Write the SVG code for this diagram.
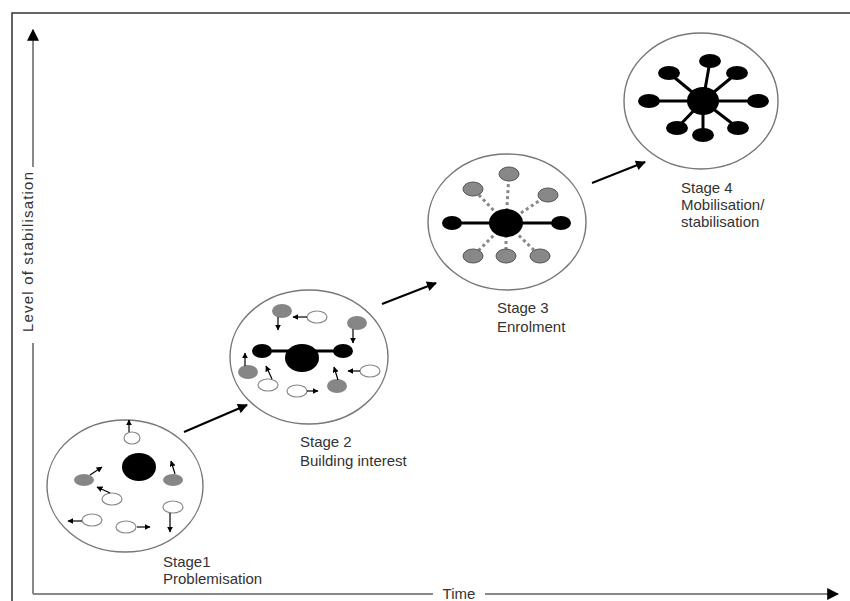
<svg xmlns="http://www.w3.org/2000/svg" width="850" height="601" viewBox="0 0 850 601">
<style>
.stage{fill:#fff;stroke:#777;stroke-width:1.4}
.blk{fill:#000}
.gry{fill:#868686}
.gry3{fill:#888;stroke:#555;stroke-width:1}
.wht{fill:#fff;stroke:#888;stroke-width:1.2}
.mv{stroke:#000;stroke-width:1.2;fill:none;marker-end:url(#sa)}
.lbl{font-family:"Liberation Sans",Arial,sans-serif;font-size:15px;fill:#333}
.axis{stroke:#888;stroke-width:2;fill:none}
.bar{stroke:#000;stroke-width:3}
.dot{stroke:#888;stroke-width:3;stroke-dasharray:3 3}
.conn{stroke:#000;stroke-width:2;fill:none;marker-end:url(#ba)}
</style>
<defs>
<marker id="sa" viewBox="0 0 10 10" refX="9" refY="5" markerWidth="6" markerHeight="6" markerUnits="userSpaceOnUse" orient="auto"><path d="M0,0 L10,5 L0,10 z" fill="#000"/></marker>
<marker id="ba" viewBox="0 0 10 10" refX="9" refY="5" markerWidth="12" markerHeight="10" markerUnits="userSpaceOnUse" orient="auto"><path d="M0,0 L10,5 L0,10 z" fill="#000"/></marker>
<marker id="axa" viewBox="0 0 10 10" refX="9" refY="5" markerWidth="12" markerHeight="12" markerUnits="userSpaceOnUse" orient="auto"><path d="M0,0 L10,5 L0,10 z" fill="#000"/></marker>
</defs>
<rect width="850" height="601" fill="#fff"/>
<path d="M12,601 V13 H850" fill="none" stroke="#333" stroke-width="1.5"/>
<g id="axes">
<path class="axis" d="M33,594 V343"/>
<path class="axis" d="M33,167 V30" marker-end="url(#axa)"/>
<path class="axis" d="M33,594 H433"/>
<path class="axis" d="M485,594 H838" marker-end="url(#axa)"/>
<text class="lbl" transform="translate(33,252) rotate(-90)" text-anchor="middle" textLength="160">Level of stabilisation</text>
<text class="lbl" x="459" y="599" text-anchor="middle">Time</text>
</g>
<g id="stage1">
<ellipse class="stage" cx="125" cy="486" rx="78" ry="66"/>
<ellipse class="blk" cx="139" cy="467" rx="17" ry="14"/>
<ellipse class="wht" cx="132" cy="438" rx="8" ry="6"/>
<ellipse class="gry" cx="84" cy="480" rx="10" ry="6"/>
<ellipse class="gry" cx="173" cy="480" rx="10" ry="6"/>
<ellipse class="wht" cx="112" cy="499" rx="10" ry="6"/>
<ellipse class="wht" cx="173" cy="507" rx="10" ry="6"/>
<ellipse class="wht" cx="92" cy="520" rx="10" ry="6"/>
<ellipse class="wht" cx="126" cy="527" rx="10" ry="6"/>
<path class="mv" d="M129,432 V420"/>
<path class="mv" d="M90,475 L102,467"/>
<path class="mv" d="M175,474 L171,461"/>
<path class="mv" d="M110,493 L97,487"/>
<path class="mv" d="M170,513 V532"/>
<path class="mv" d="M82,521 H68"/>
<path class="mv" d="M137,527 H150"/>
<text class="lbl" x="163" y="567">Stage1</text>
<text class="lbl" x="163" y="584">Problemisation</text>
</g>
<g id="stage2">
<ellipse class="stage" cx="309" cy="357" rx="79" ry="67"/>
<line class="bar" x1="262" y1="351" x2="343" y2="351"/>
<ellipse class="blk" cx="302" cy="358" rx="17" ry="14"/>
<ellipse class="blk" cx="262" cy="351" rx="10" ry="7"/>
<ellipse class="blk" cx="343" cy="351" rx="10" ry="7"/>
<ellipse class="gry" cx="282" cy="311" rx="10" ry="7"/>
<ellipse class="wht" cx="317" cy="317" rx="10" ry="6"/>
<ellipse class="gry" cx="357" cy="323" rx="10" ry="7"/>
<ellipse class="gry" cx="248" cy="372" rx="10" ry="7"/>
<ellipse class="wht" cx="268" cy="385" rx="10" ry="6"/>
<ellipse class="wht" cx="297" cy="391" rx="10" ry="6"/>
<ellipse class="gry" cx="337" cy="386" rx="10" ry="7"/>
<ellipse class="wht" cx="370" cy="371" rx="10" ry="6"/>
<path class="mv" d="M278,317 V330"/>
<path class="mv" d="M307,317 H293"/>
<path class="mv" d="M353,329 V343"/>
<path class="mv" d="M245,366 V353"/>
<path class="mv" d="M272,379 L266,366"/>
<path class="mv" d="M307,391 H318"/>
<path class="mv" d="M338,380 L334,367"/>
<path class="mv" d="M360,371 H348"/>
<text class="lbl" x="300" y="447">Stage 2</text>
<text class="lbl" x="300" y="466">Building interest</text>
</g>
<g id="stage3">
<ellipse class="stage" cx="507" cy="222" rx="79" ry="68"/>
<line class="dot" x1="506" y1="223" x2="509" y2="174"/>
<line class="dot" x1="506" y1="223" x2="473" y2="189"/>
<line class="dot" x1="506" y1="223" x2="548" y2="195"/>
<line class="dot" x1="506" y1="223" x2="473" y2="256"/>
<line class="dot" x1="506" y1="223" x2="506" y2="256"/>
<line class="dot" x1="506" y1="223" x2="540" y2="256"/>
<line class="bar" x1="452" y1="223" x2="561" y2="223"/>
<ellipse class="blk" cx="506" cy="223" rx="17" ry="14"/>
<ellipse class="blk" cx="452" cy="223" rx="10" ry="7"/>
<ellipse class="blk" cx="561" cy="223" rx="10" ry="7"/>
<ellipse class="gry3" cx="509" cy="174" rx="10" ry="7"/>
<ellipse class="gry3" cx="473" cy="189" rx="10" ry="7"/>
<ellipse class="gry3" cx="548" cy="195" rx="10" ry="7"/>
<ellipse class="gry3" cx="473" cy="256" rx="10" ry="7"/>
<ellipse class="gry3" cx="506" cy="256" rx="10" ry="7"/>
<ellipse class="gry3" cx="540" cy="256" rx="10" ry="7"/>
<text class="lbl" x="497" y="313">Stage 3</text>
<text class="lbl" x="497" y="332">Enrolment</text>
</g>
<g id="stage4">
<ellipse class="stage" cx="701" cy="101" rx="77" ry="68"/>
<g class="bar">
<line x1="703" y1="101" x2="710" y2="61"/>
<line x1="703" y1="101" x2="669" y2="73"/>
<line x1="703" y1="101" x2="737" y2="73"/>
<line x1="703" y1="101" x2="649" y2="101"/>
<line x1="703" y1="101" x2="758" y2="101"/>
<line x1="703" y1="101" x2="677" y2="128"/>
<line x1="703" y1="101" x2="703" y2="135"/>
<line x1="703" y1="101" x2="738" y2="128"/>
</g>
<ellipse class="blk" cx="703" cy="101" rx="16" ry="14"/>
<ellipse class="blk" cx="710" cy="61" rx="11" ry="7"/>
<ellipse class="blk" cx="669" cy="73" rx="11" ry="7"/>
<ellipse class="blk" cx="737" cy="73" rx="11" ry="7"/>
<ellipse class="blk" cx="649" cy="101" rx="11" ry="7"/>
<ellipse class="blk" cx="758" cy="101" rx="11" ry="7"/>
<ellipse class="blk" cx="677" cy="128" rx="11" ry="7"/>
<ellipse class="blk" cx="703" cy="135" rx="11" ry="7"/>
<ellipse class="blk" cx="738" cy="128" rx="11" ry="7"/>
<text class="lbl" x="681" y="193">Stage 4</text>
<text class="lbl" x="681" y="210">Mobilisation/</text>
<text class="lbl" x="681" y="227">stabilisation</text>
</g>
<g id="connectors">
<path class="conn" d="M184,432 L247,405"/>
<path class="conn" d="M382,304 L436,283"/>
<path class="conn" d="M592,183 L645,162"/>
</g>
</svg>
